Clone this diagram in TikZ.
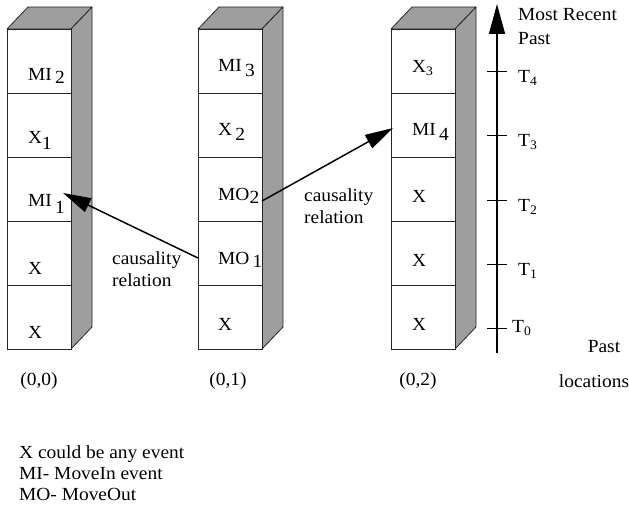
\documentclass[tikz,border=0pt]{standalone}
\usepackage{fontspec}
\setmainfont{Liberation Serif}[FakeStretch=1.05]
\usetikzlibrary{arrows.meta}
\newcommand{\dn}[2][0.45ex]{\raisebox{-#1}{#2}}

\begin{document}
\begin{tikzpicture}[x=1pt, y=-1pt,
  font=\fontsize{18.5}{22}\selectfont,
  cell/.style={draw=black!85, line width=0.8pt, fill=white, minimum width=64pt, minimum height=64pt, inner sep=0pt, outer sep=0pt, anchor=north west},
  shade/.style={draw=black!85, line width=0.8pt, fill=black!38, line join=round},
  entry/.style={anchor=west, inner sep=0pt},
  note/.style={align=left, anchor=west, inner sep=0pt},
  causal/.style={line width=1.5pt, -{Triangle[length=28pt, width=15pt]}},
  timeaxis/.style={line width=1.5pt, -{Triangle[length=30pt, width=16pt]}}
]
\useasboundingbox (0,0) rectangle (629,508);

% the three stacks
\foreach \x in {7,198,391} {
  \draw[shade] (\x,29) -- (\x+21,7) -- (\x+85,7) -- (\x+64,29) -- cycle;
  \draw[shade] (\x+64,29) -- (\x+85,7) -- (\x+85,327) -- (\x+64,349) -- cycle;
}
\foreach \r in {1,...,5} {
  \node[cell] (c1\r) at (7,{29+64*(\r-1)}) {};
  \node[cell] (c2\r) at (198,{29+64*(\r-1)}) {};
  \node[cell] (c3\r) at (391,{29+64*(\r-1)}) {};
}

% events
\node[entry] (e11) at ([xshift=21pt,yshift=-15pt]c11.west) {MI\,\dn{2}};
\node[entry] (e12) at ([xshift=21pt,yshift=-15pt]c12.west) {X\dn[0.7ex]{1}};
\node[entry] (e13) at ([xshift=21pt,yshift=-15pt]c13.west) {MI\,\dn[0.8ex]{1}};
\node[entry] (e14) at ([xshift=21pt,yshift=-15pt]c14.west) {X};
\node[entry] (e15) at ([xshift=21pt,yshift=-15pt]c15.west) {X};

\node[entry] (e21) at ([xshift=20pt,yshift=-7pt]c21.west) {MI\,\dn[0.6ex]{3}};
\node[entry] (e22) at ([xshift=20pt,yshift=-7pt]c22.west) {X\,\dn[0.6ex]{2}};
\node[entry] (e23) at ([xshift=20pt,yshift=-7pt]c23.west) {MO\dn[0.3ex]{2}};
\node[entry] (e24) at ([xshift=20pt,yshift=-7pt]c24.west) {MO\,\dn[0.3ex]{1}};
\node[entry] (e25) at ([xshift=20pt,yshift=-7pt]c25.west) {X};

\node[entry] (e31) at ([xshift=21pt,yshift=-7pt]c31.west) {X\textsubscript{3}};
\node[entry] (e32) at ([xshift=21pt,yshift=-7pt]c32.west) {MI\,\dn[0.6ex]{4}};
\node[entry] (e33) at ([xshift=21pt,yshift=-7pt]c33.west) {X};
\node[entry] (e34) at ([xshift=21pt,yshift=-7pt]c34.west) {X};
\node[entry] (e35) at ([xshift=21pt,yshift=-7pt]c35.west) {X};

% causality
\draw[causal] ([yshift=-5pt]c24.west) -- ([xshift=-8pt,yshift=-4pt]c13.east);
\draw[causal] ([yshift=-12pt]c23.east) -- ([xshift=2pt,yshift=-3pt]c32.west);
\node[note] (rel1) at (112,269) {causality\\relation};
\node[note] (rel2) at (304,206) {causality\\relation};

% time axis
\coordinate (tlow) at (497,353);
\coordinate (thigh) at (497,4);
\draw[timeaxis] (tlow) -- (thigh);
\foreach \y in {328,264,200,135,71}
  \draw[line width=0.8pt] (487,\y) -- (507,\y);
\node[entry] (t0) at (512,328) {T\textsubscript{0}};
\node[entry] (t1) at (518,271) {T\textsubscript{1}};
\node[entry] (t2) at (518,207) {T\textsubscript{2}};
\node[entry] (t3) at (518,142) {T\textsubscript{3}};
\node[entry] (t4) at (518,78) {T\textsubscript{4}};
\node[note, font=\fontsize{18.5}{24}\selectfont] (recent) at (518,27) {Most Recent\\Past};
\node (past) at (604,347) {Past};

% locations
\node (l0) at (39,381) {(0,0)};
\node (l1) at (228,381) {(0,1)};
\node (l2) at (418,381) {(0,2)};
\node (loc) at (594,381) {locations};

% legend
\node[note, font=\fontsize{18.5}{21}\selectfont] (legend) at (19,473) {X could be any event\\MI- MoveIn event\\MO- MoveOut};
\end{tikzpicture}
\end{document}
